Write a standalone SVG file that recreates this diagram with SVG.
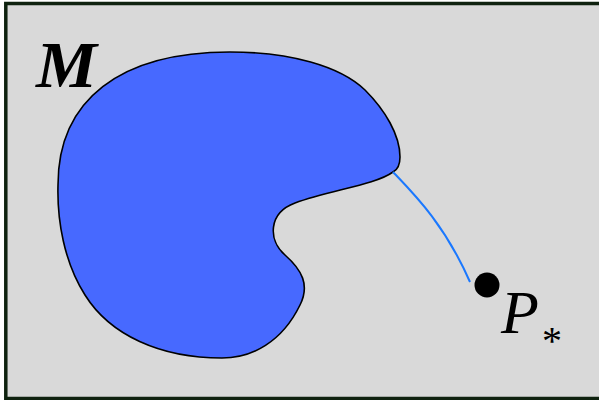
<svg xmlns="http://www.w3.org/2000/svg" width="599" height="400" viewBox="0 0 599 400">
<style>
.frame{fill:#d9d9d9;stroke:#0f220f;stroke-width:3.5}
.blob{fill:#4769ff;stroke:#000;stroke-width:1.6}
.path{fill:none;stroke:#1a78ff;stroke-width:2}
.lbl{font-family:"Liberation Serif",serif;fill:#000}
</style>
<rect class="frame" x="5.8" y="3.5" width="600" height="395"/>
<g id="manifold">
<path class="blob" d="M 230,52 C 290,52 340,66 365,90 C 385,110 400,135 400,157 C 400,165 397,170 393,172 C 375,185 330,190 295,203 C 268,213 268,240 285,255 C 302,270 310,285 300,305 C 282,342 252,358 222,358 C 160,358 110,335 85,295 C 64,262 57,220 58,185 C 58,100 120,52 230,52 Z"/>
<text class="lbl" x="36" y="87" font-size="66" font-weight="bold" font-style="italic" textLength="61" lengthAdjust="spacingAndGlyphs">M</text>
</g>
<g id="connectors">
<path class="path" d="M 393,172 C 415,195 445,225 470,282"/>
</g>
<g id="point">
<circle cx="487" cy="285" r="12.5" fill="#000"/>
<text class="lbl" x="501" y="333" font-size="62" font-style="italic">P</text>
<text class="lbl" x="542" y="354" font-size="40">*</text>
</g>
</svg>
